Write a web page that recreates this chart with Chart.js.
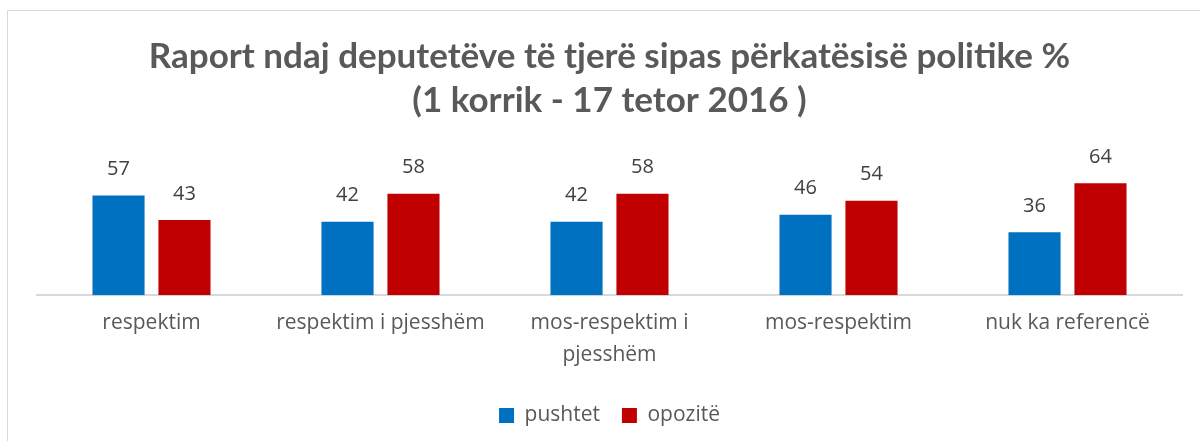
<!DOCTYPE html>
<html><head><meta charset="utf-8">
<script src="https://cdn.jsdelivr.net/npm/chart.js@4"></script>
<style>
html,body{margin:0;padding:0;background:#fff;}
#wrap{position:relative;width:1200px;height:441px;}
#frame{position:absolute;left:7px;top:10px;width:1200px;height:450px;border:1px solid #d9d9d9;box-sizing:border-box;}
canvas{position:absolute;left:0;top:0;}
</style></head><body>
<div id="wrap"><div id="frame"></div><canvas id="c" width="1200" height="441"></canvas></div>
<script>
const categories = ["respektim", "respektim i pjesshëm", ["mos-respektim i", "pjesshëm"], "mos-respektim", "nuk ka referencë"];
const pushtet = [57, 42, 42, 46, 36];
const opozite = [43, 58, 58, 54, 64];
const seriesNames = ["pushtet", "opozitë"];
const titleLines = ["Raport ndaj deputetëve të tjerë sipas përkatësisë politike %", "(1 korrik - 17 tetor 2016 )"];

const TFONT = "Lato, sans-serif";
const FONT = "'Open Sans', sans-serif";

const labelPlugin = {
  id: 'valueLabels',
  afterDatasetsDraw(chart) {
    const ctx = chart.ctx;
    ctx.save();
    ctx.font = "20px " + FONT;
    ctx.fillStyle = "#404040";
    ctx.textAlign = "center";
    ctx.textBaseline = "middle";
    chart.data.datasets.forEach((ds, i) => {
      chart.getDatasetMeta(i).data.forEach((el, j) => {
        ctx.fillText(String(ds.data[j]), el.x, el.y - 26);
      });
    });
    ctx.restore();
  }
};

new Chart(document.getElementById('c'), {
  type: 'bar',
  data: {
    labels: categories,
    datasets: [
      {label: seriesNames[0], data: pushtet, backgroundColor: '#0070C0', borderWidth: 0},
      {label: seriesNames[1], data: opozite, backgroundColor: '#C00000', borderWidth: 0}
    ]
  },
  options: {
    responsive: false,
    animation: false,
    devicePixelRatio: 1,
    layout: {padding: {left: 37, right: 18, top: 0, bottom: 5}},
    datasets: {bar: {categoryPercentage: 0.576, barPercentage: 0.79}},
    scales: {
      x: {
        grid: {display: false, drawTicks: false},
        border: {display: true, color: '#d9d9d9', width: 2},
        ticks: {color: '#595959', font: {size: 21, family: FONT, lineHeight: 1.52}, padding: 12, maxRotation: 0, autoSkip: false}
      },
      y: {display: false, min: 0, max: 80}
    },
    plugins: {
      title: {
        display: true,
        text: titleLines,
        color: '#595959',
        font: {size: 35, weight: 'bold', family: TFONT, lineHeight: 1.26},
        padding: {top: 35, bottom: 32}
      },
      legend: {
        position: 'bottom',
        labels: {color: '#595959', font: {size: 21, family: FONT}, boxWidth: 15, boxHeight: 15, padding: 22, useBorderRadius: false}
      },
      tooltip: {enabled: false}
    }
  },
  plugins: [labelPlugin]
});
</script>
</body></html>
